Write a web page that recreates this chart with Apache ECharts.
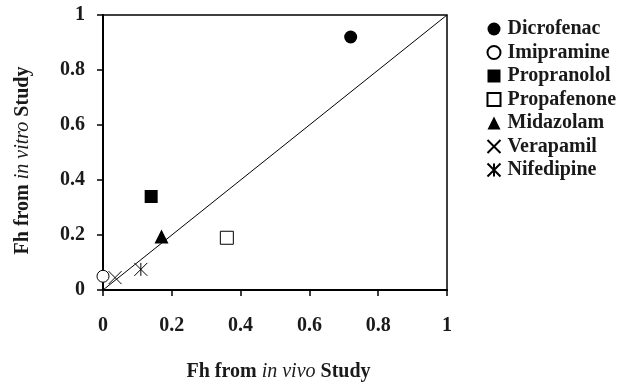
<!DOCTYPE html>
<html>
<head>
<meta charset="utf-8">
<script src="https://cdn.jsdelivr.net/npm/echarts@6/dist/echarts.min.js"></script>
<style>
html,body{margin:0;padding:0;background:#fff;}
#c{width:631px;height:387px;}
</style>
</head>
<body>
<div id="c"></div>
<script>
// Data: [Fh in vivo, Fh in vitro]
var drugNames = ['Dicrofenac','Imipramine','Propranolol','Propafenone','Midazolam','Verapamil','Nifedipine'];
var dicrofenac = [[0.72, 0.92]];
var imipramine = [[0.0, 0.05]];
var propranolol = [[0.14, 0.34]];
var propafenone = [[0.36, 0.19]];
var midazolam = [[0.17, 0.195]];
var verapamil = [[0.035, 0.045]];
var nifedipine = [[0.11, 0.075]];
var identityLine = [[0, 0], [1, 1]];
var xTicks = [0, 0.2, 0.4, 0.6, 0.8, 1];
var yTicks = [0, 0.2, 0.4, 0.6, 0.8, 1];

var FONT = '"Liberation Serif", "DejaVu Serif", serif';
var TXT = '#1a1a1a';

var seriesData = [dicrofenac, imipramine, propranolol, propafenone, midazolam, verapamil, nifedipine];
var symbols = ['circle','circle','rect','rect','triangle',
  'path://M0,0L10,10M10,0L0,10',
  'path://M0,0L10,10M10,0L0,10M5,0L5,10'];
var fills = ['#000','#fff','#000','#fff','#000','none','none'];
var sizes = [13, 12, 13, 13, 14, 13, 13];

var series = [{
  type: 'line',
  data: identityLine,
  symbol: 'none',
  lineStyle: {color: '#000', width: 1},
  silent: true,
  z: 1
}];
for (var i = 0; i < drugNames.length; i++) {
  series.push({
    name: drugNames[i],
    type: 'scatter',
    data: seriesData[i],
    symbol: symbols[i],
    symbolSize: sizes[i],
    itemStyle: {color: fills[i], borderColor: '#000', borderWidth: (i === 1 || i === 3 || i >= 5) ? 1 : 0, opacity: 1},
    z: 3
  });
}

var chart = echarts.init(document.getElementById('c'), null, {renderer: 'canvas'});
chart.setOption({
  animation: false,
  backgroundColor: '#fff',
  grid: {left: 103, right: 184, top: 15, bottom: 91, show: true, borderColor: '#000', borderWidth: 1.5},
  legend: {
    data: drugNames,
    orient: 'vertical',
    left: 480,
    top: 14,
    itemWidth: 13,
    itemHeight: 13,
    itemGap: 3.5,
    textStyle: {fontFamily: FONT, fontWeight: 'bold', fontSize: 20, color: TXT, lineHeight: 20, padding: [0,0,0,2]},
    selectedMode: false
  },
  xAxis: {
    type: 'value', min: 0, max: 1, interval: 0.2,
    axisLine: {lineStyle: {color: '#000', width: 2}},
    axisTick: {show: true, length: 6, inside: false, lineStyle: {color: '#000', width: 1.5}},
    splitLine: {show: false},
    axisLabel: {margin: 26, fontFamily: FONT, fontWeight: 'bold', fontSize: 20, color: TXT,
      formatter: function (v) { return String(+v.toFixed(1)); }},
    name: '{b|Fh from }{i|in vivo}{b| Study}',
    nameLocation: 'middle',
    nameGap: 72,
    nameTextStyle: {
      padding: [0, 0, 0, 7],
      rich: {
        b: {fontFamily: FONT, fontWeight: 'bold', fontSize: 20, color: TXT},
        i: {fontFamily: FONT, fontStyle: 'italic', fontSize: 20, color: TXT}
      }
    }
  },
  yAxis: {
    type: 'value', min: 0, max: 1, interval: 0.2,
    axisLine: {lineStyle: {color: '#000', width: 2}},
    axisTick: {show: true, length: 6, inside: false, lineStyle: {color: '#000', width: 1.5}},
    splitLine: {show: false},
    axisLabel: {margin: 18, fontFamily: FONT, fontWeight: 'bold', fontSize: 20, color: TXT,
      formatter: function (v) { return String(+v.toFixed(1)); }},
    name: '{b|Fh from }{i|in vitro}{b| Study}',
    nameLocation: 'middle',
    nameGap: 70,
    nameTextStyle: {
      padding: [0, 16, 0, 0],
      rich: {
        b: {fontFamily: FONT, fontWeight: 'bold', fontSize: 20, color: TXT},
        i: {fontFamily: FONT, fontStyle: 'italic', fontSize: 20, color: TXT}
      }
    }
  },
  series: series
});
</script>
</body>
</html>
